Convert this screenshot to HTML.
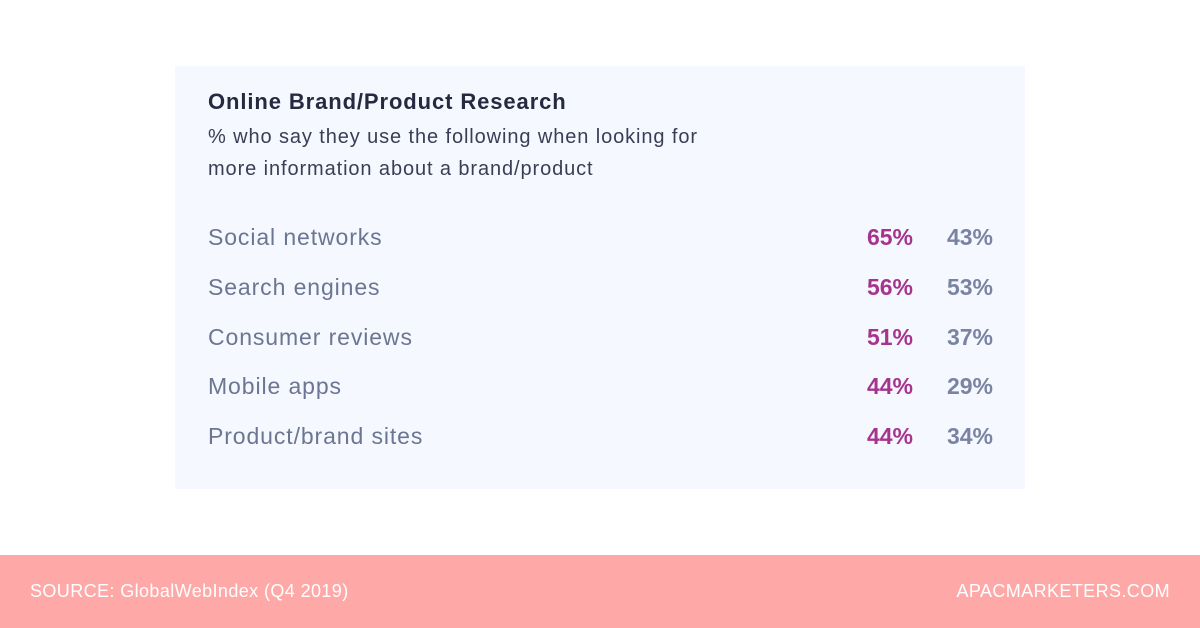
<!DOCTYPE html>
<html><head><meta charset="utf-8"><style>
body{margin:0;width:1200px;height:628px;background:#fff;position:relative;overflow:hidden;font-family:"Liberation Sans",sans-serif}
#panel{position:absolute;left:175px;top:66px;width:850px;height:423px;background:#f5f8fe}
.t{position:absolute;white-space:nowrap}
#footer{position:absolute;left:0;top:555px;width:1200px;height:73px;background:#ffa8a8;color:#fff;font-size:18px;letter-spacing:0.4px}
</style></head><body>
<div id="panel">
<div class="t" style="left:33px;top:23px;font-size:22px;letter-spacing:0.9px;font-weight:bold;color:#262a40">Online Brand/Product Research</div>
<div class="t" style="left:33px;top:55px;font-size:20px;letter-spacing:0.9px;line-height:32px;color:#3a3e55">% who say they use the following when looking for<br>more information about a brand/product</div>
<div id="rows"></div>
</div>
<div id="footer">
<div class="t" style="left:30px;top:26px">SOURCE: GlobalWebIndex (Q4 2019)</div>
<div class="t" style="right:30px;top:26px">APACMARKETERS.COM</div>
</div>
<script>
const categories=["Social networks","Search engines","Consumer reviews","Mobile apps","Product/brand sites"];
const seriesA=[65,56,51,44,44];
const seriesB=[43,53,37,29,34];
const rows=document.getElementById('rows');
categories.forEach((c,i)=>{
 const y=158+i*49.8;
 const l=document.createElement('div');l.className='t';
 
 
 l.style.cssText=`left:33px;top:${y}px;font-size:23px;letter-spacing:0.9px;color:#6c7592`;l.textContent=c;rows.appendChild(l);
 const a=document.createElement('div');a.className='t';
 
 
 a.style.cssText=`right:112px;top:${y}px;font-size:23px;font-weight:bold;color:#a6348f`;a.textContent=seriesA[i]+'%';rows.appendChild(a);
 const b=document.createElement('div');b.className='t';
 
 
 b.style.cssText=`right:32px;top:${y}px;font-size:23px;font-weight:bold;color:#7a84a2`;b.textContent=seriesB[i]+'%';rows.appendChild(b);
});
</script>
</body></html>
